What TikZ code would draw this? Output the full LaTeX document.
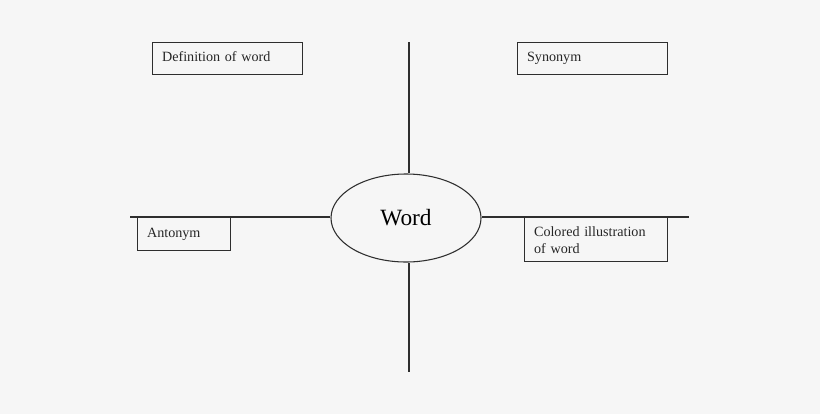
\documentclass[tikz,border=0pt]{standalone}
\usepackage{fontspec}
\setmainfont{Liberation Serif}
\usetikzlibrary{shapes.geometric}
\definecolor{bgcol}{HTML}{F6F6F6}
\definecolor{inkcol}{HTML}{2E2E2E}
\tikzset{
  labelbox/.style={draw=inkcol, line width=1.1pt, anchor=north west, align=left,
    inner xsep=7pt, inner ysep=0pt, font=\fontsize{10.6}{12.75}\selectfont, text=black!85},
  axis/.style={draw=inkcol, line width=0.9pt}
}
\begin{document}
\begin{tikzpicture}[x=0.75pt, y=-0.75pt]
\fill[bgcol] (0,0) rectangle (820,414);
\useasboundingbox (0,0) rectangle (820,414);

\node[draw=inkcol, line width=0.8pt, ellipse, minimum width=112.5pt, minimum height=66pt,
      inner sep=0pt, font=\fontsize{17.5}{20}\selectfont] (word) at (406,218) {Word};

\coordinate (top) at (409,42);
\coordinate (bottom) at (409,372);
\coordinate (left) at (130,217);
\coordinate (right) at (689,217);

\draw[axis] (top) -- (top |- word.north);
\draw[axis] (bottom |- word.south) -- (bottom);
\draw[axis] (left) -- (left -| word.west);
\draw[axis] (word.east |- right) -- (right);

\node[labelbox, text width=98.5pt, minimum height=24pt, text depth=4pt] (defn) at (152,42) {Definition of word};
\node[labelbox, text width=98.5pt, minimum height=24pt, text depth=3pt] (syn) at (517,42) {Synonym};
\node[labelbox, text width=55.75pt, minimum height=24.75pt] (ant) at (137,217) {Antonym};
\node[labelbox, text width=93.25pt, minimum height=33pt] (illus) at (524,217) {Colored illustration\\of word};
\end{tikzpicture}
\end{document}
